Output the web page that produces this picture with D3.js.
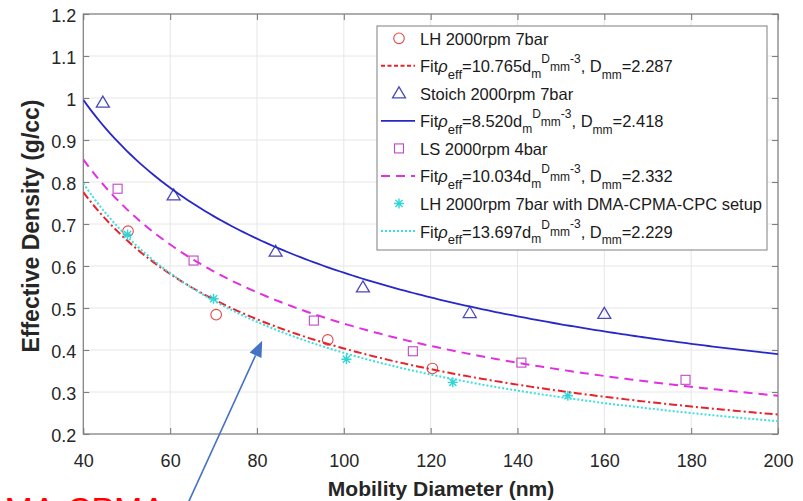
<!DOCTYPE html>
<html><head><meta charset="utf-8">
<script src="https://cdn.jsdelivr.net/npm/d3@7"></script>
<style>body{margin:0;background:#fff}svg{display:block;font-family:Arial,"Liberation Sans",sans-serif}</style>
</head><body><svg id="c" width="803" height="501"></svg>
<script>
// ---- data ----
const lhX = [50.3, 70.6, 96.3, 120.4];
const lhY = [0.683, 0.484, 0.424, 0.356];
const stX = [44.5, 60.8, 84.3, 104.4, 129.0, 160.0];
const stY = [0.989, 0.768, 0.634, 0.549, 0.488, 0.486];
const lsX = [47.9, 65.4, 93.1, 115.9, 140.9, 178.7];
const lsY = [0.784, 0.613, 0.470, 0.397, 0.370, 0.329];
const cpX = [50.2, 70.0, 100.6, 125.1, 151.6];
const cpY = [0.675, 0.522, 0.378, 0.323, 0.291];
// fit parameters shown in the legend: rho_eff = C * d^(Dmm-3)
const fitC = [10.765, 8.520, 10.034, 13.697];
const fitD = [2.287, 2.418, 2.332, 2.229];
const fitCText = ["10.765", "8.520", "10.034", "13.697"];
const fitDText = ["2.287", "2.418", "2.332", "2.229"];
const seriesNames = ["LH 2000rpm 7bar", "Stoich 2000rpm 7bar", "LS 2000rpm 4bar", "LH 2000rpm 7bar with DMA-CPMA-CPC setup"];
const xTicks = [40, 60, 80, 100, 120, 140, 160, 180, 200];
const yTicks = [0.2, 0.3, 0.4, 0.5, 0.6, 0.7, 0.8, 0.9, 1, 1.1, 1.2];
const xTitle = "Mobility Diameter (nm)";
const yTitle = "Effective Density (g/cc)";
const noteText = "DMA-CPMA";
const arrowTail = [64.15, 0.036], arrowTip = [81.2, 0.422];

// ---- layout ----
const L = 83.3, R = 778, T = 14, B = 434;
const svg = d3.select("#c");
const x = d3.scaleLinear().domain([40, 200]).range([L, R]);
const y = d3.scaleLinear().domain([0.2, 1.2]).range([B, T]);

svg.append("rect").attr("width", 803).attr("height", 501).attr("fill", "#fff");
svg.append("defs").append("clipPath").attr("id", "pc")
  .append("rect").attr("x", L).attr("y", T).attr("width", R - L).attr("height", B - T);

// grid
const g = svg.append("g");
g.selectAll(".gx").data(xTicks).join("line")
  .attr("x1", d => x(d)).attr("x2", d => x(d)).attr("y1", T).attr("y2", B)
  .attr("stroke", "#e6e6e6").attr("stroke-width", 1);
g.selectAll(".gy").data(yTicks).join("line")
  .attr("y1", d => y(d)).attr("y2", d => y(d)).attr("x1", L).attr("x2", R)
  .attr("stroke", "#e6e6e6").attr("stroke-width", 1);

// axes via d3 axis
const axColor = "#7f7f7f";
function styleAxis(sel) {
  sel.select(".domain").remove();
  sel.selectAll(".tick line").attr("stroke", axColor).attr("stroke-width", 1.1);
  sel.selectAll(".tick text").attr("fill", "#262626").attr("font-size", 18)
    .attr("font-family", "Arial, 'Liberation Sans', sans-serif");
}
const xb = svg.append("g").attr("transform", `translate(0,${B})`)
  .call(d3.axisBottom(x).tickValues(xTicks).tickFormat(d3.format("d")).tickSizeInner(-6).tickPadding(19));
styleAxis(xb);
xb.selectAll(".tick text").attr("dy", null).attr("y", 33);
const xt = svg.append("g").attr("transform", `translate(0,${T})`)
  .call(d3.axisTop(x).tickValues(xTicks).tickSizeInner(-6).tickFormat(""));
styleAxis(xt);
const yl = svg.append("g").attr("transform", `translate(${L},0)`)
  .call(d3.axisLeft(y).tickValues(yTicks).tickFormat(d => d3.format("")(+d.toFixed(1))).tickSizeInner(-6).tickPadding(7));
styleAxis(yl);
yl.selectAll(".tick text").attr("x", -7).attr("dy", "0.42em");
const yr = svg.append("g").attr("transform", `translate(${R},0)`)
  .call(d3.axisRight(y).tickValues(yTicks).tickSizeInner(-6).tickFormat(""));
styleAxis(yr);
svg.append("rect").attr("x", L).attr("y", T).attr("width", R - L).attr("height", B - T)
  .attr("fill", "none").attr("stroke", axColor).attr("stroke-width", 1.2);

// axis titles
svg.append("text").attr("x", 441).attr("y", 496).attr("text-anchor", "middle")
  .attr("font-size", 21).attr("font-weight", "bold").attr("fill", "#262626").text(xTitle);
svg.append("text").attr("transform", "translate(38.5,226) rotate(-90)").attr("text-anchor", "middle")
  .attr("font-size", 23).attr("font-weight", "bold").attr("fill", "#262626").text(yTitle);

// styles
const fitStyles = [
  {color: "#e8222a", w: 2, dash: "8,3,2,3"},
  {color: "#2828c8", w: 1.8, dash: null},
  {color: "#e030e0", w: 2, dash: "9,6"},
  {color: "#3ddede", w: 2, dash: "2,2"}
];
const mk = [
  {type: "circle", color: "#e04848"},
  {type: "triangle", color: "#4a4ab8"},
  {type: "square", color: "#c048c8"},
  {type: "star", color: "#2ed6d6"}
];
function drawMarker(sel, type, color) {
  if (type === "circle") sel.append("circle").attr("r", 5.3).attr("fill", "none").attr("stroke", color).attr("stroke-width", 1.1);
  else if (type === "triangle") sel.append("path").attr("d", "M0,-6.5L6.5,4.5L-6.5,4.5Z").attr("fill", "none").attr("stroke", color).attr("stroke-width", 1.3);
  else if (type === "square") sel.append("rect").attr("x", -4.5).attr("y", -4.5).attr("width", 9).attr("height", 9).attr("fill", "none").attr("stroke", color).attr("stroke-width", 1.1);
  else {
    const p = "M0,-5V5M-5,0H5M-3.6,-3.6L3.6,3.6M-3.6,3.6L3.6,-3.6";
    sel.append("path").attr("d", p).attr("fill", "none").attr("stroke", color).attr("stroke-width", 1.4);
  }
}

const plot = svg.append("g").attr("clip-path", "url(#pc)");
const pts = [[lhX, lhY], [stX, stY], [lsX, lsY], [cpX, cpY]];
const dGrid = d3.range(40, 200.01, 1);
const line = d3.line().x(d => x(d[0])).y(d => y(d[1]));
pts.forEach((p, i) => {
  const data = p[0].map((v, j) => [v, p[1][j]]);
  data.forEach(d => drawMarker(plot.append("g").attr("transform", `translate(${x(d[0])},${y(d[1])})`), mk[i].type, mk[i].color));
  const curve = dGrid.map(d => [d, fitC[i] * Math.pow(d, fitD[i] - 3)]);
  plot.append("path").attr("d", line(curve)).attr("fill", "none")
    .attr("stroke", fitStyles[i].color).attr("stroke-width", fitStyles[i].w)
    .attr("stroke-dasharray", fitStyles[i].dash);
});

// legend
const lg = svg.append("g");
lg.append("rect").attr("x", 377).attr("y", 26).attr("width", 390).attr("height", 224)
  .attr("fill", "#fff").attr("stroke", "#8a8a8a").attr("stroke-width", 1.1);
const rowH = 27.53, row0 = 38.3, tx = 420, fs = 16.5, ss = 12;
const legDash = ["4,2.5", null, "9,6", "2,2"];
for (let i = 0; i < 4; i++) {
  const c1 = row0 + rowH * (2 * i), c2 = row0 + rowH * (2 * i + 1);
  drawMarker(lg.append("g").attr("transform", `translate(399,${c1})`), mk[i].type, mk[i].color);
  lg.append("text").attr("x", tx).attr("y", c1 + 6.5).attr("font-size", fs).attr("fill", "#1a1a1a").text(seriesNames[i]);
  lg.append("line").attr("x1", 381).attr("x2", 415).attr("y1", c2).attr("y2", c2)
    .attr("stroke", fitStyles[i].color).attr("stroke-width", fitStyles[i].w)
    .attr("stroke-dasharray", legDash[i]);
  const b = c2 + 6.5;
  const t = lg.append("text").attr("x", tx).attr("y", b).attr("font-size", fs).attr("fill", "#1a1a1a");
  const parts = [
    ["Fit", fs, 0], ["ρ", fs, 0, true], ["eff", ss + 1, 6.5], ["=" + fitCText[i] + "d", fs, 0],
    ["m", ss, 5.5], ["D", ss, -9], ["mm", ss, -1.5], ["-3", ss, -9.5],
    [", D", fs, 0], ["mm", ss, 6.5], ["=" + fitDText[i], fs, 0]
  ];
  parts.forEach(pt => {
    const s = t.append("tspan").attr("y", b + pt[2]).attr("font-size", pt[1]).text(pt[0]);
    if (pt[3]) s.attr("font-style", "italic");
  });
}

// annotation arrow
const ax1 = x(arrowTail[0]), ay1 = y(arrowTail[1]), ax2 = x(arrowTip[0]), ay2 = y(arrowTip[1]);
const ang = Math.atan2(ay2 - ay1, ax2 - ax1);
const hl = 16, hw = 6.5;
const bx = ax2 - hl * Math.cos(ang), by = ay2 - hl * Math.sin(ang);
svg.append("line").attr("x1", ax1).attr("y1", ay1).attr("x2", bx).attr("y2", by)
  .attr("stroke", "#4472c4").attr("stroke-width", 1.6);
svg.append("path").attr("d",
  `M${ax2},${ay2}L${bx + hw * Math.sin(ang)},${by - hw * Math.cos(ang)}L${bx - hw * Math.sin(ang)},${by + hw * Math.cos(ang)}Z`)
  .attr("fill", "#4472c4");

// red note text (cut off at the bottom of the image, as in the reference)
svg.append("text").attr("x", -20).attr("y", 521).attr("font-size", 34).attr("fill", "#ff0000").text(noteText);
</script></body></html>
